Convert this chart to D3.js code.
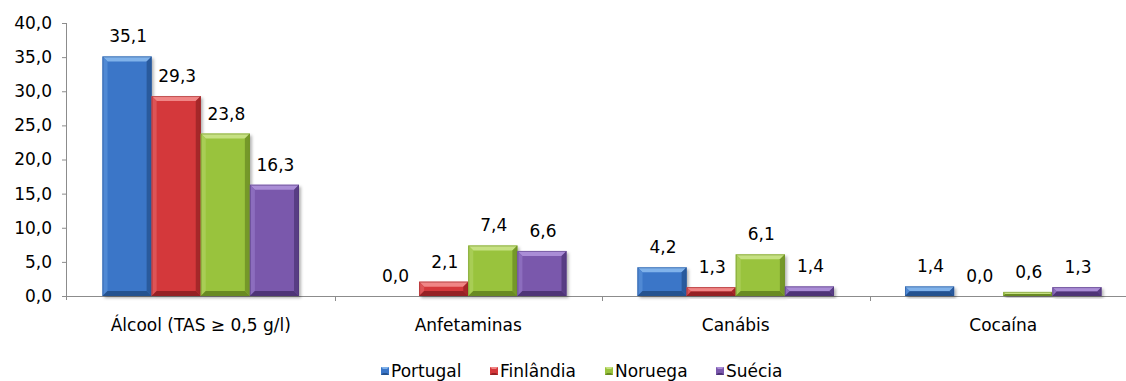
<!DOCTYPE html>
<html>
<head>
<meta charset="utf-8">
<script src="https://cdn.jsdelivr.net/npm/d3@7"></script>
<style>
  html, body { margin: 0; padding: 0; background: #fff; }
  svg { display: block; }
</style>
</head>
<body>
<svg id="chart" width="1126" height="381"></svg>
<script>
// Categories and series
const categories = ["Álcool (TAS \u2265 0,5 g/l)", "Anfetaminas", "Canábis", "Cocaína"];
const seriesNames = ["Portugal", "Finlândia", "Noruega", "Suécia"];
const portugal = [35.1, 0.0, 4.2, 1.4];
const finlandia = [29.3, 2.1, 1.3, 0.0];
const noruega = [23.8, 7.4, 6.1, 0.6];
const suecia = [16.3, 6.6, 1.4, 1.3];
const yTicks = [0, 5, 10, 15, 20, 25, 30, 35, 40];

const seriesValues = [portugal, finlandia, noruega, suecia];
const colors = [
  { base: "#3a76c8", top: "#80b2ea", side: "#5089d4", dark: "#24528f" },
  { base: "#d4373a", top: "#f08686", side: "#dd5456", dark: "#952124" },
  { base: "#99c33d", top: "#c6e182", side: "#a8cd55", dark: "#698a23" },
  { base: "#7a58ac", top: "#aa8dd6", side: "#8c6dbe", dark: "#4e3477" }
];
const FONT = "'DejaVu Sans', 'Liberation Serif', serif";
const FS = "17px";

const svg = d3.select("#chart");
const margin = { left: 67, top: 23 };
const plotBottom = 296;
const plotRight = 1137;

const x0 = d3.scaleBand().domain(categories).range([margin.left, plotRight]).paddingInner(0).paddingOuter(0);
const x1 = d3.scaleBand().domain(seriesNames).range([35.5, x0.bandwidth() - 35.5]).padding(0);
const y = d3.scaleLinear().domain([0, 40]).range([plotBottom, margin.top]);

const fmt = v => v.toFixed(1).replace(".", ",");

// Drop shadow for the bars
const defs = svg.append("defs");
const f = defs.append("filter").attr("id", "shadow").attr("x", "-20%").attr("y", "-20%").attr("width", "150%").attr("height", "150%");
f.append("feDropShadow").attr("dx", 2).attr("dy", 2).attr("stdDeviation", 1.8).attr("flood-color", "#000").attr("flood-opacity", 0.3);

// Y axis
const yAxis = d3.axisLeft(y).tickValues(yTicks).tickSize(5).tickPadding(10).tickFormat(fmt);
const gy = svg.append("g").attr("transform", `translate(${margin.left},0)`).call(yAxis);
gy.attr("font-family", null).attr("font-size", null);
gy.select(".domain").attr("stroke", "#8c8c8c").attr("d", `M-0.5,${margin.top}V${plotBottom + 4}`);
gy.selectAll(".tick line").attr("stroke", "#8c8c8c");
gy.selectAll(".tick text").style("font-family", FONT).style("font-size", FS).attr("fill", "#000");

// X axis
const xAxis = d3.axisBottom(x0).tickSize(0).tickPadding(23);
const gx = svg.append("g").attr("transform", `translate(0,${plotBottom})`).call(xAxis);
gx.attr("font-family", null).attr("font-size", null);
gx.select(".domain").attr("stroke", "#8c8c8c").attr("d", `M${margin.left},0.5H${plotRight}`);
gx.selectAll(".tick text").style("font-family", FONT).style("font-size", FS).attr("fill", "#000");
// category separators
gx.selectAll(".sep").data(categories.slice(1)).enter().append("line")
  .attr("x1", d => Math.round(x0(d)) + 0.5).attr("x2", d => Math.round(x0(d)) + 0.5)
  .attr("y1", 0).attr("y2", 5).attr("stroke", "#8c8c8c");

// Bars with bevel
const bars = [];
categories.forEach((c, ci) => {
  seriesNames.forEach((s, si) => {
    bars.push({ cat: c, ser: s, si, value: seriesValues[si][ci] });
  });
});

const gBars = svg.append("g");
bars.forEach(d => {
  if (d.value <= 0) return;
  const bx = x0(d.cat) + x1(d.ser);
  const bw = x1.bandwidth();
  const by = y(d.value);
  const bh = plotBottom - by;
  const c = colors[d.si];
  const b = Math.min(5, bh / 2, bw / 2);
  const g = gBars.append("g");
  g.append("rect").attr("x", bx).attr("y", by).attr("width", bw).attr("height", bh)
    .attr("fill", c.base).attr("filter", "url(#shadow)");
  g.append("polygon").attr("points", [[bx, by], [bx + bw, by], [bx + bw - b, by + b], [bx + b, by + b]].join(" "))
    .attr("fill", c.top);
  g.append("polygon").attr("points", [[bx, by], [bx + b, by + b], [bx + b, by + bh - b], [bx, by + bh]].join(" "))
    .attr("fill", c.side);
  g.append("polygon").attr("points", [[bx + bw, by], [bx + bw, by + bh], [bx + bw - b, by + bh - b], [bx + bw - b, by + b]].join(" "))
    .attr("fill", c.dark).attr("opacity", 0.75);
  g.append("polygon").attr("points", [[bx, by + bh], [bx + b, by + bh - b], [bx + bw - b, by + bh - b], [bx + bw, by + bh]].join(" "))
    .attr("fill", c.dark);
  g.append("rect").attr("x", bx + 0.5).attr("y", by + 0.5).attr("width", bw - 1).attr("height", Math.max(0, bh - 1))
    .attr("fill", "none").attr("stroke", c.dark).attr("stroke-opacity", 0.5);
});

// Value labels
svg.append("g").selectAll("text").data(bars).enter().append("text")
  .attr("x", d => x0(d.cat) + x1(d.ser) + x1.bandwidth() / 2 + 1)
  .attr("y", d => y(d.value) - 14)
  .attr("text-anchor", "middle")
  .style("font-family", FONT)
  .style("font-size", FS)
  .text(d => fmt(d.value));

// Legend
const legendX = [381, 490, 605, 716];
const legend = svg.append("g");
seriesNames.forEach((s, i) => {
  const c = colors[i];
  const lg = legend.append("g").attr("transform", `translate(${legendX[i]},367)`);
  lg.append("rect").attr("x", 0).attr("y", 0).attr("width", 8).attr("height", 8).attr("fill", c.base);
  lg.append("polygon").attr("points", "0,0 8,0 6,2 2,2").attr("fill", c.top);
  lg.append("polygon").attr("points", "0,8 2,6 6,6 8,8").attr("fill", c.dark);
  lg.append("text").attr("x", 10).attr("y", 9.5).style("font-family", FONT).style("font-size", FS).text(s);
});
</script>
</body>
</html>
